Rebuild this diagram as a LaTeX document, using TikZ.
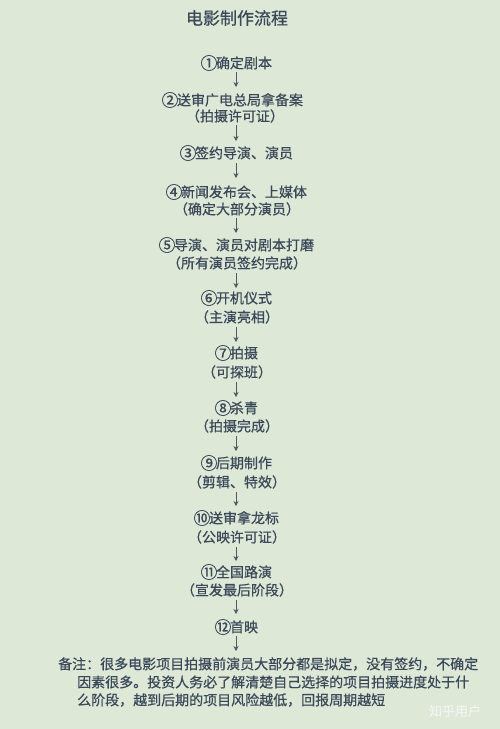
\documentclass[tikz,border=0pt]{standalone}
\usepackage{fontspec}
\usepackage{graphicx}
\setmainfont{Noto Sans CJK SC}
\newfontfamily\cjk[FakeBold=0.6]{Noto Sans CJK SC}
\usetikzlibrary{arrows.meta}
\definecolor{bg}{HTML}{DDE8D7}
\definecolor{ink}{HTML}{3A4858}
\definecolor{arr}{HTML}{4E5A62}
\definecolor{wm}{HTML}{F2F4F0}
\newcommand{\cn}[1]{\makebox[1em][c]{\raisebox{-0.08em}{\scalebox{1.2}{#1}}}}
\begin{document}
\begin{tikzpicture}[x=1pt,y=-1pt,
  stepline/.style={text=ink,font=\cjk\fontsize{14}{14}\selectfont,inner sep=0pt,anchor=center},
  noteline/.style={text=ink,font=\cjk\fontsize{14}{14}\selectfont,inner sep=0pt,anchor=west},
  flow/.style={draw=arr,line width=0.9pt,-{Stealth[length=5pt,width=5pt]}}]
\fill[bg] (0,0) rectangle (500,729);
\useasboundingbox (0,0) rectangle (500,729);
\node[text=ink,font=\cjk\fontsize{17}{17}\selectfont,inner sep=0pt] (title) at (237,18) {电影制作流程};
\node[stepline] (s1) at (237,63) {\cn{①}确定剧本};
\node[stepline] (s2) at (233,100) {\cn{②}送审广电总局拿备案};
\node[stepline] (s2b) at (235,116) {（拍摄许可证）};
\node[stepline] (s3) at (237,153) {\cn{③}签约导演、演员};
\node[stepline] (s4) at (237,192) {\cn{④}新闻发布会、上媒体};
\node[stepline] (s4b) at (237,209) {（确定大部分演员）};
\node[stepline] (s5) at (237,245) {\cn{⑤}导演、演员对剧本打磨};
\node[stepline] (s5b) at (237,263) {（所有演员签约完成）};
\node[stepline] (s6) at (237,298) {\cn{⑥}开机仪式};
\node[stepline] (s6b) at (237,317) {（主演亮相）};
\node[stepline] (s7) at (237,353) {\cn{⑦}拍摄};
\node[stepline] (s7b) at (237,372) {（可探班）};
\node[stepline] (s8) at (237,408) {\cn{⑧}杀青};
\node[stepline] (s8b) at (237,426) {（拍摄完成）};
\node[stepline] (s9) at (237,463) {\cn{⑨}后期制作};
\node[stepline] (s9b) at (237,482) {（剪辑、特效）};
\node[stepline] (s10) at (237,518) {\cn{⑩}送审拿龙标};
\node[stepline] (s10b) at (237,537) {（公映许可证）};
\node[stepline] (s11) at (237,572) {\cn{⑪}全国路演};
\node[stepline] (s11b) at (237,590) {（宣发最后阶段）};
\node[stepline] (s12) at (237,627) {\cn{⑫}首映};
\node[noteline] (n1) at (58,664) {备注：很多电影项目拍摄前演员大部分都是拟定，没有签约，不确定};
\node[noteline] (n2) at (77,682) {因素很多。投资人务必了解清楚自己选择的项目拍摄进度处于什};
\node[noteline] (n3) at (77,700) {么阶段，越到后期的项目风险越低，回报周期越短};
\node[text=wm,font=\cjk\fontsize{13}{13}\selectfont,inner sep=0pt] (wmk) at (455,711) {知乎用户};
\coordinate (a1s) at (236,72);  \coordinate (a1e) at (236,87);
\coordinate (a2s) at (236,125); \coordinate (a2e) at (236,141);
\coordinate (a3s) at (236,163); \coordinate (a3e) at (236,178);
\coordinate (a4s) at (236,218); \coordinate (a4e) at (236,233);
\coordinate (a5s) at (236,273); \coordinate (a5e) at (236,288);
\coordinate (a6s) at (236,327); \coordinate (a6e) at (236,342);
\coordinate (a7s) at (236,382); \coordinate (a7e) at (236,397);
\coordinate (a8s) at (236,436); \coordinate (a8e) at (236,451);
\coordinate (a9s) at (236,492); \coordinate (a9e) at (236,506);
\coordinate (a10s) at (236,547); \coordinate (a10e) at (236,561);
\coordinate (a11s) at (236,600); \coordinate (a11e) at (236,614);
\coordinate (a12s) at (236,636); \coordinate (a12e) at (236,651);
\foreach \i in {1,...,12} {\draw[flow] (a\i s) -- (a\i e);}
\end{tikzpicture}
\end{document}
